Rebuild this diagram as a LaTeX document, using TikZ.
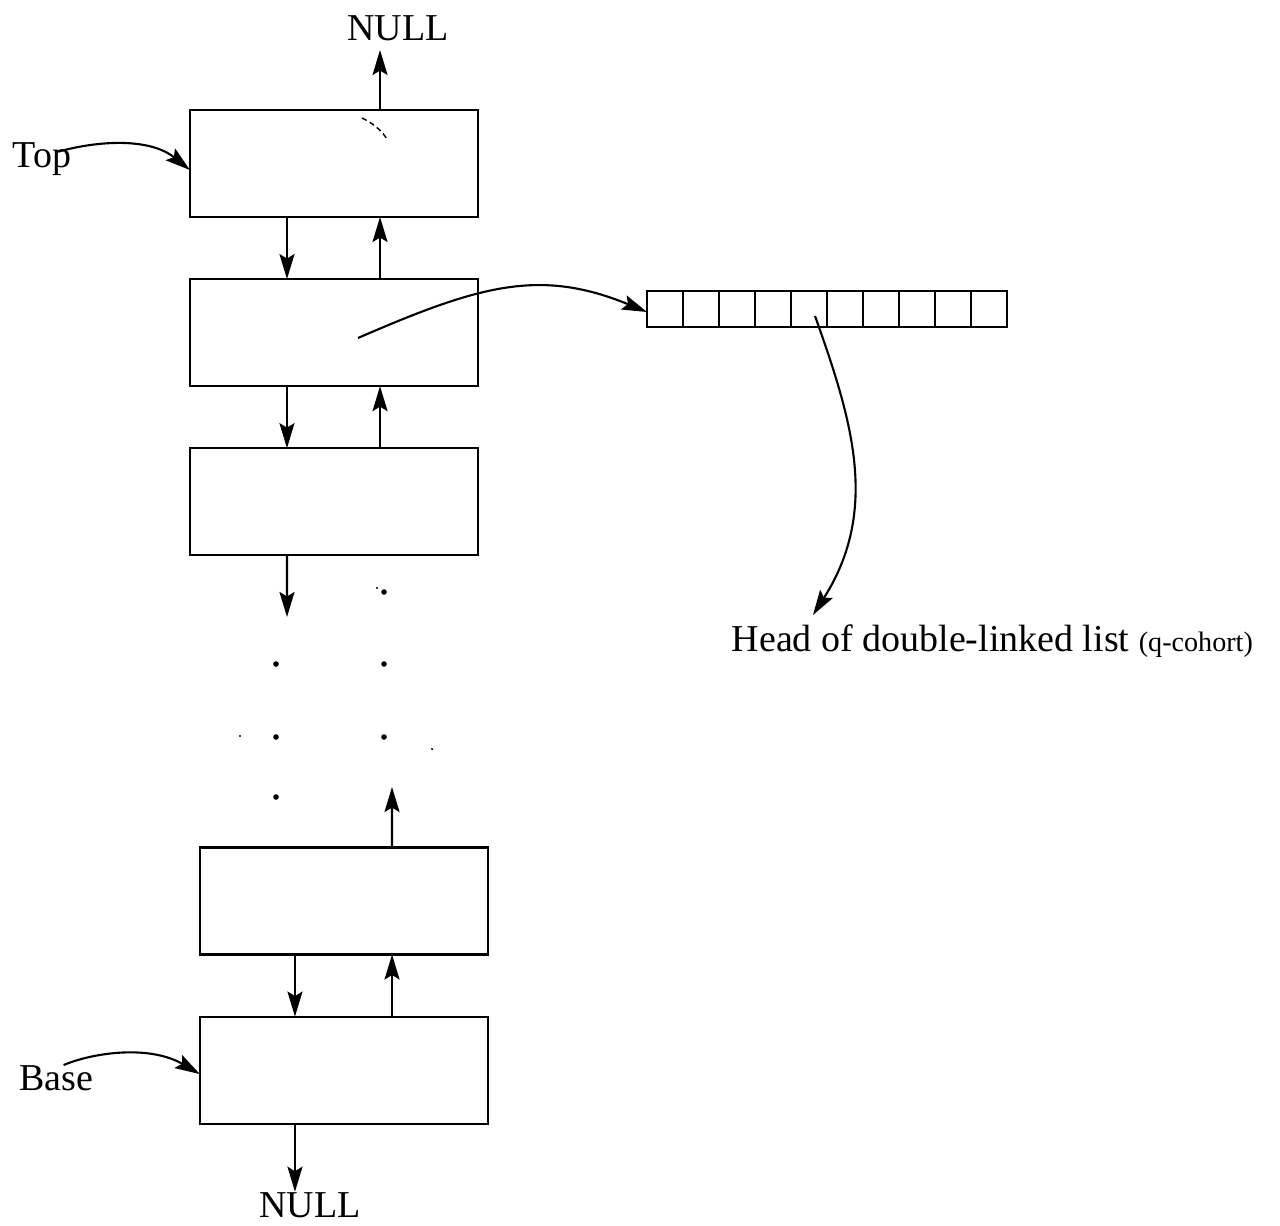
\documentclass[tikz,border=0pt]{standalone}
\usepackage{fontspec}
\setmainfont{Liberation Serif}
\usetikzlibrary{positioning, arrows.meta}

\begin{document}
\begin{tikzpicture}[
    x=0.01cm, y=-0.01cm,
    node distance=0.62cm,
    every node/.style={font=\fontsize{10.8}{13}\selectfont},
    stackbox/.style={rectangle, draw, line width=0.6pt, minimum width=2.88cm, minimum height=1.07cm, inner sep=0pt, outer sep=0pt},
    cell/.style={rectangle, draw, line width=0.6pt, minimum size=0.36cm, inner sep=0pt, outer sep=0pt},
    arrow/.style={-{Stealth[length=2.5mm, width=1.5mm, inset=0.45mm]}, line width=0.6pt},
    label/.style={inner sep=0pt}
]
\useasboundingbox (0,0) rectangle (1280,1225);

% Stack of frames
\node[stackbox] (b1) at (334,163.5) {};
\node[stackbox, below=of b1] (b2) {};
\node[stackbox, below=of b2] (b3) {};
\node[stackbox] (b4) at (344,901) {};
\node[stackbox, below=of b4] (b5) {};

% NULL ends
\node[label] (nulltop) at (398,28) {NULL};
\node[label] (nullbot) at (310,1205) {NULL};

% Top and Base labels
\node[label] (top) at (42,159) {Top};
\node[label] (base) at (56,1078) {Base};

% Links between frames
\draw[arrow] ([xshift=0.46cm]b1.north) -- ([xshift=0.46cm]b1.north |- 0,50);
\draw[arrow] ([xshift=-0.47cm]b1.south) -- ([xshift=-0.47cm]b2.north);
\draw[arrow] ([xshift=0.46cm]b2.north) -- ([xshift=0.46cm]b1.south);
\draw[arrow] ([xshift=-0.47cm]b2.south) -- ([xshift=-0.47cm]b3.north);
\draw[arrow] ([xshift=0.46cm]b3.north) -- ([xshift=0.46cm]b2.south);
\coordinate (d3) at (287,617);
\draw[arrow] ([xshift=-0.47cm]b3.south) -- (d3);
\coordinate (u4) at (392,787);
\draw[arrow] ([xshift=0.48cm]b4.north) -- (u4);
\draw[arrow] ([xshift=-0.49cm]b4.south) -- ([xshift=-0.49cm]b5.north);
\draw[arrow] ([xshift=0.48cm]b5.north) -- ([xshift=0.48cm]b4.south);
\draw[arrow] ([xshift=-0.49cm]b5.south) -- ([xshift=-0.49cm]b5.south |- nullbot.north);

% Dots
\foreach \p in {(384,592), (276,664), (384,664), (276,737), (384,737), (276,797)}
    \fill \p circle (0.8pt);
\foreach \p in {(240,736), (432,749), (377,588)}
    \fill \p circle (0.35pt);

% Small dashed mark in the top frame
\draw[dashed, line width=0.4pt, dash pattern=on 1.5pt off 1pt] (362,118) .. controls (374,124) and (381,130) .. (387,139);

% Pointers from Top and Base
\draw[arrow] ([xshift=-0.15cm, yshift=0.07cm]top.east) .. controls (100,140) and (150,138) .. ([yshift=-0.065cm]b1.west);
\draw[arrow] ([xshift=-0.3cm, yshift=0.13cm]base.east) .. controls (95,1052) and (150,1045) .. ([yshift=-0.04cm]b5.west);

% Array of ten cells
\foreach \i in {0,...,9}
    \node[cell] (c\i) at ({665+36*\i},309) {};

% Pointer from second frame to the array
\coordinate (p2) at (358,338);
\draw[arrow] (p2) .. controls (480,285) and (540,268) .. ([yshift=-0.03cm]c0.west);

% Head of list
\node[label, anchor=west] (head) at (731,641) {Head of double-linked list \fontsize{8}{9}\selectfont(q-cohort)};
\coordinate (hd) at (813,615);
\draw[arrow] ([shift={(0.06cm,-0.07cm)}]c4.center) .. controls (852,420) and (880,510) .. (hd);

\end{tikzpicture}
\end{document}
